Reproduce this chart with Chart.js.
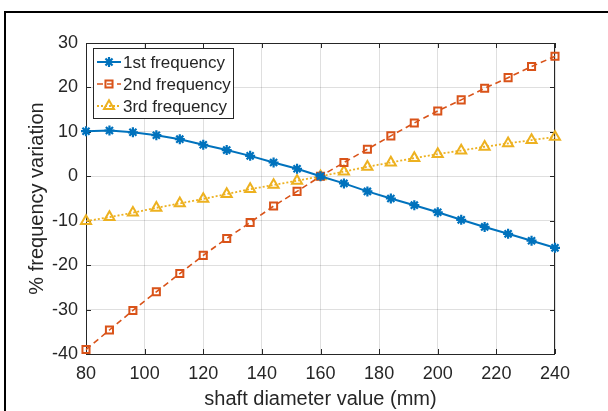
<!DOCTYPE html>
<html>
<head>
<meta charset="utf-8">
<script src="https://cdn.jsdelivr.net/npm/chart.js@4/dist/chart.umd.min.js"></script>
<style>
  html, body { margin: 0; padding: 0; background: #fff; }
  #wrap { position: relative; width: 608px; height: 411px; }
</style>
</head>
<body>
<div id="wrap"><canvas id="freqChart" width="608" height="411"></canvas></div>
<script>
// shaft diameter (mm)
const diameters = [80, 88, 96, 104, 112, 120, 128, 136, 144, 152, 160, 168, 176, 184, 192, 200, 208, 216, 224, 232, 240];
// % frequency variation
const freq1 = [10.15, 10.3, 9.9, 9.25, 8.35, 7.1, 5.9, 4.6, 3.1, 1.7, 0, -1.6, -3.4, -5.0, -6.5, -8.1, -9.8, -11.4, -12.95, -14.5, -16.1];
const freq2 = [-39.0, -34.6, -30.2, -26.0, -21.9, -17.8, -14.0, -10.4, -6.7, -3.4, 0, 3.1, 6.1, 9.1, 12.0, 14.7, 17.2, 19.8, 22.2, 24.7, 27.0];
const freq3 = [-10.1, -9.2, -8.2, -7.1, -6.1, -5.1, -4.0, -2.9, -1.95, -1.0, 0, 1.05, 2.15, 3.1, 4.1, 5.0, 5.8, 6.65, 7.4, 8.15, 8.85];
const seriesNames = ["1st frequency", "2nd frequency", "3rd frequency"];

const textColor = "#262626";
const gridColor = "rgba(38,38,38,0.15)";
Chart.defaults.font.family = "'Liberation Sans', Arial, sans-serif";
Chart.defaults.font.size = 18;
Chart.defaults.color = textColor;

const toPoints = (vals) => vals.map((v, i) => ({ x: diameters[i], y: v }));

// axes box with inward ticks, outer frame and the legend box
const matlabLook = {
	id: "matlabLook",
	beforeDatasetsDraw(chart) {
		const { ctx, chartArea: a, scales } = chart;
		ctx.save();
		ctx.strokeStyle = textColor;
		ctx.lineWidth = 1;
		ctx.strokeRect(a.left + 0.5, a.top + 0.5, a.right - a.left - 1, a.bottom - a.top);
		ctx.beginPath();
		scales.x.ticks.forEach((t) => {
			const px = Math.round(scales.x.getPixelForValue(t.value)) + 0.5;
			ctx.moveTo(px, a.bottom); ctx.lineTo(px, a.bottom - 5);
			ctx.moveTo(px, a.top); ctx.lineTo(px, a.top + 5);
		});
		scales.y.ticks.forEach((t) => {
			const py = Math.round(scales.y.getPixelForValue(t.value)) + 0.5;
			ctx.moveTo(a.left, py); ctx.lineTo(a.left + 5, py);
			ctx.moveTo(a.right, py); ctx.lineTo(a.right - 5, py);
		});
		ctx.stroke();
		ctx.restore();
	},
	afterDraw(chart) {
		const { ctx } = chart;
		ctx.save();
		// figure frame
		ctx.fillStyle = "#000";
		ctx.fillRect(4, 11, 2, 400);
		ctx.fillRect(4, 11, 604, 2);
		// legend
		ctx.fillStyle = "#fff";
		ctx.fillRect(93, 48, 140, 70);
		ctx.strokeStyle = textColor;
		ctx.lineWidth = 1;
		ctx.strokeRect(93.5, 48.5, 140, 70);
		const rows = [62, 84, 106];
		chart.data.datasets.forEach((ds, i) => {
			const y = rows[i];
			ctx.save();
			ctx.strokeStyle = ds.borderColor;
			ctx.lineWidth = ds.borderWidth;
			ctx.setLineDash(ds.borderDash || []);
			ctx.beginPath();
			ctx.moveTo(97, y);
			ctx.lineTo(121, y);
			ctx.stroke();
			ctx.restore();

			ctx.save();
			ctx.strokeStyle = ds.pointBorderColor;
			ctx.fillStyle = ds.pointBackgroundColor;
			ctx.lineWidth = ds.pointBorderWidth;
			Chart.helpers.drawPoint(ctx, {
				pointStyle: ds.pointStyle,
				radius: ds.pointRadius,
				borderWidth: ds.pointBorderWidth,
				rotation: 0
			}, 109, y);
			ctx.restore();

			ctx.fillStyle = textColor;
			ctx.font = "17px 'Liberation Sans', Arial, sans-serif";
			ctx.textBaseline = "middle";
			ctx.textAlign = "left";
			ctx.fillText(ds.label, 123, y + 1);
		});
		ctx.restore();
	}
};

const ctx = document.getElementById("freqChart").getContext("2d");
const freqChart = new Chart(ctx, {
	type: "line",
	data: {
		datasets: [
			{
				label: seriesNames[0],
				data: toPoints(freq1),
				borderColor: "#0072BD",
				backgroundColor: "#0072BD",
				borderWidth: 2,
				pointStyle: "star",
				pointRadius: 5,
				pointBorderWidth: 2.2,
				pointBorderColor: "#0072BD",
				pointBackgroundColor: "#0072BD",
				tension: 0,
				clip: false
			},
			{
				label: seriesNames[1],
				data: toPoints(freq2),
				borderColor: "#D95319",
				backgroundColor: "rgba(0,0,0,0)",
				borderWidth: 1.6,
				borderDash: [6, 4],
				pointStyle: "rect",
				pointRadius: 5,
				pointBorderWidth: 2,
				pointBorderColor: "#D95319",
				pointBackgroundColor: "rgba(0,0,0,0)",
				tension: 0,
				clip: false
			},
			{
				label: seriesNames[2],
				data: toPoints(freq3),
				borderColor: "#EDB120",
				backgroundColor: "rgba(0,0,0,0)",
				borderWidth: 1.8,
				borderDash: [2, 2],
				pointStyle: "triangle",
				pointRadius: 5.8,
				pointBorderWidth: 2,
				pointBorderColor: "#EDB120",
				pointBackgroundColor: "rgba(0,0,0,0)",
				tension: 0,
				clip: false
			}
		]
	},
	options: {
		responsive: false,
		animation: false,
		layout: { padding: { left: 0, top: 43, right: 53, bottom: 0 } },
		scales: {
			x: {
				type: "linear",
				min: 80,
				max: 240,
				ticks: { stepSize: 20, padding: 9, color: textColor, maxRotation: 0 },
				grid: { color: gridColor, drawTicks: false },
				border: { display: false },
				title: {
					display: true,
					text: "shaft diameter value (mm)",
					font: { size: 20 },
					color: textColor,
					padding: { top: 0, bottom: 0 }
				},
				afterFit(scale) { scale.height = 57; }
			},
			y: {
				min: -40,
				max: 30,
				ticks: { stepSize: 10, padding: 8, color: textColor },
				grid: { color: gridColor, drawTicks: false },
				border: { display: false },
				title: {
					display: true,
					text: "% frequency variation",
					font: { size: 20 },
					color: textColor,
					padding: { top: 25, bottom: 0 }
				},
				afterFit(scale) { scale.width = 86; }
			}
		},
		plugins: {
			legend: { display: false },
			tooltip: { enabled: false }
		}
	},
	plugins: [matlabLook]
});
</script>
</body>
</html>
